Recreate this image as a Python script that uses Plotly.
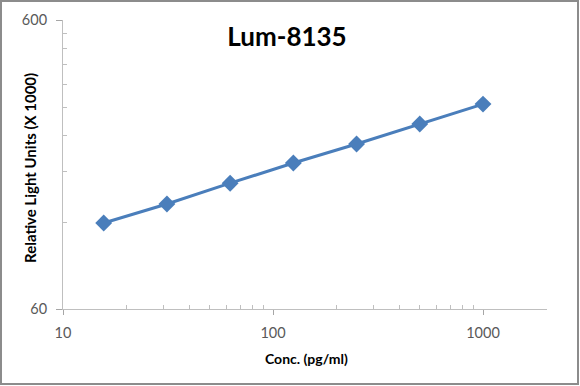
import plotly.graph_objects as go

conc = [15.625, 31.25, 62.5, 125, 250, 500, 1000]
rlu = [119, 138.5, 163.5, 192, 223.5, 262, 307]
x_ticks = [10, 100, 1000]
y_ticks = [60, 600]
y_minor = [120, 180, 240, 300, 360, 420, 480, 540]
x_minor = [20, 30, 40, 50, 60, 70, 80, 90, 200, 300, 400, 500, 600, 700, 800, 900]

L, R, T, B = 63, 33, 20, 77
W, H = 580, 386
pw, ph = W - L - R, H - T - B

fig = go.Figure()
fig.add_trace(go.Scatter(
    x=conc, y=rlu, mode="lines+markers",
    line=dict(color="#4a7ebb", width=3),
    marker=dict(symbol="diamond", size=13, color="#4a7ebb"),
    showlegend=False,
))

font_family = "Lato, Open Sans, sans-serif"
axis_font = dict(family=font_family, size=14.5, color="#595959")
fig.update_layout(
    width=W, height=H,
    margin=dict(l=L, r=R, t=T, b=B, autoexpand=False),
    paper_bgcolor="white", plot_bgcolor="white",
    title=dict(text="<b>Lum-8135</b>", x=287 / W, xanchor="center", xref="container",
               y=1 - 37 / H, yanchor="middle", yref="container",
               font=dict(family=font_family, size=26, color="black")),
    xaxis=dict(
        type="log", range=[1, 1 + (547 - 63) / 210], automargin=False,
        tickvals=x_ticks, ticktext=[str(v) for v in x_ticks],
        ticks="outside", ticklen=5, tickcolor="#a6a6a6",
        showline=True, linecolor="#bfbfbf", linewidth=1,
        showgrid=False, zeroline=False,
        tickfont=axis_font, ticklabelstandoff=6,
        minor=dict(tickvals=x_minor, ticks="inside", ticklen=4, tickcolor="#bfbfbf", showgrid=False),
    ),
    yaxis=dict(
        type="log", range=[1.7781512503836436, 2.7781512503836436], automargin=False,
        tickvals=y_ticks, ticktext=[str(v) for v in y_ticks],
        ticks="outside", ticklen=6, tickcolor="#a6a6a6",
        showline=True, linecolor="#bfbfbf", linewidth=1,
        showgrid=False, zeroline=False,
        tickfont=axis_font, ticklabelstandoff=6,
        minor=dict(tickvals=y_minor, ticks="inside", ticklen=4, tickcolor="#bfbfbf", showgrid=False),
    ),
    annotations=[
        dict(text="<b>Conc. (pg/ml)</b>", xref="paper", yref="paper",
             x=(306 - L) / pw, y=(H - B - 358) / ph, xanchor="center", yanchor="middle",
             showarrow=False, font=dict(family=font_family, size=14, color="black")),
        dict(text="<b>Relative Light Units (X 1000)</b>", xref="paper", yref="paper",
             x=(30 - L) / pw, y=(H - B - 168) / ph, xanchor="center", yanchor="middle", textangle=-90,
             showarrow=False, font=dict(family=font_family, size=15, color="black")),
    ],
    shapes=[dict(type="rect", xref="paper", yref="paper",
                 x0=(1 - L) / pw, x1=(578 - L) / pw,
                 y0=(H - B - 384) / ph, y1=(H - B - 1) / ph,
                 line=dict(color="#8c8c8c", width=2), layer="below")],
)

fig.write_html("out.html", config={"displayModeBar": False},
               post_script="document.body.style.margin='0';document.body.style.overflow='hidden';")
